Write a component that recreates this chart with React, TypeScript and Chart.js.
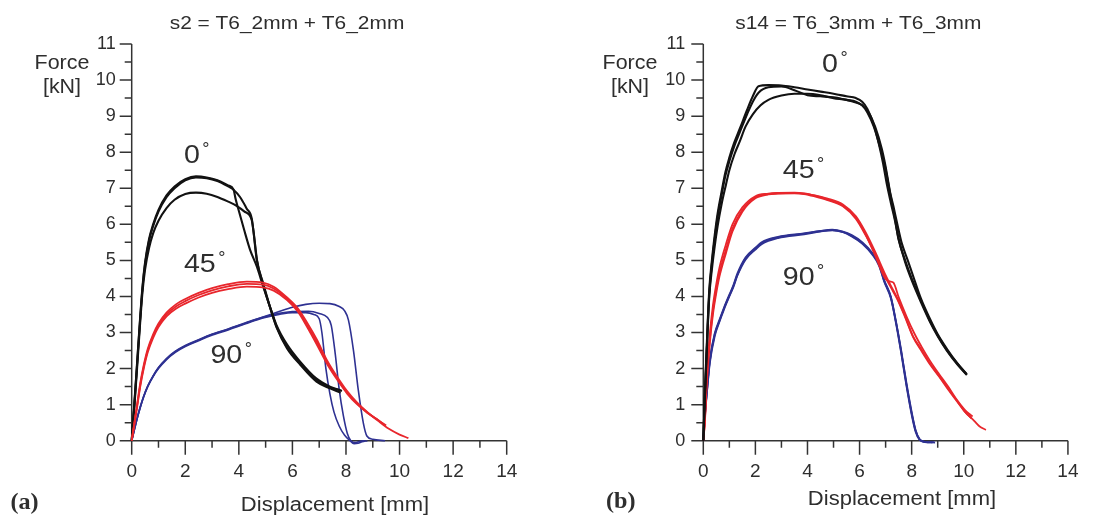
import React, { useEffect, useRef } from 'react';
import { Chart, registerables } from 'chart.js';
Chart.register(...registerables);

// ---------- data (Displacement [mm], Force [kN]) ----------
const xTicks = [0, 2, 4, 6, 8, 10, 12, 14];
const yTicks = [0, 1, 2, 3, 4, 5, 6, 7, 8, 9, 10, 11];

// panel (a): s2 = T6_2mm + T6_2mm
const a0_1 = [[0,0],[0.1,1.0],[0.2,2.1],[0.3,3.2],[0.4,4.2],[0.5,4.9],[0.65,5.55],[0.8,5.95],[1.0,6.35],[1.3,6.75],[1.6,7.0],[2.0,7.22],[2.4,7.3],[2.8,7.28],[3.2,7.2],[3.6,7.05],[3.8,6.96],[4.05,6.75],[4.29,6.44],[4.48,6.17],[4.54,5.84],[4.67,5.01],[4.91,4.36],[5.16,3.72],[5.41,3.16],[5.79,2.61],[6.28,2.15],[6.9,1.68],[7.3,1.5],[7.78,1.4]];
const a0_2 = [[0,0],[0.1,1.05],[0.2,2.15],[0.3,3.25],[0.4,4.25],[0.5,4.95],[0.65,5.6],[0.8,6.0],[1.0,6.4],[1.3,6.8],[1.6,7.05],[2.0,7.25],[2.4,7.33],[2.8,7.3],[3.2,7.22],[3.6,7.08],[3.8,6.97],[3.88,6.7],[3.97,6.45],[4.2,5.84],[4.42,5.29],[4.67,4.83],[4.91,4.27],[5.16,3.72],[5.41,3.2],[5.79,2.68],[6.28,2.2],[6.9,1.72],[7.4,1.5],[7.85,1.38]];
const a0_3 = [[0,0],[0.1,0.95],[0.2,2.0],[0.3,3.1],[0.4,4.1],[0.5,4.75],[0.65,5.35],[0.8,5.75],[1.0,6.1],[1.3,6.45],[1.6,6.68],[2.0,6.84],[2.4,6.88],[2.8,6.85],[3.2,6.76],[3.6,6.63],[3.9,6.52],[4.2,6.36],[4.48,6.12],[4.55,5.8],[4.68,5.0],[4.92,4.3],[5.17,3.68],[5.42,3.12],[5.8,2.56],[6.3,2.1],[6.9,1.64],[7.4,1.45],[7.8,1.33]];
const a45_1 = [[0,0],[0.1,0.5],[0.2,1.0],[0.32,1.6],[0.45,2.1],[0.6,2.55],[0.8,2.95],[1.0,3.25],[1.3,3.55],[1.65,3.78],[2.0,3.93],[2.5,4.1],[3.0,4.23],[3.6,4.34],[4.3,4.41],[4.9,4.38],[5.3,4.27],[5.8,3.97],[6.2,3.67],[6.55,3.27],[6.9,2.82],[7.3,2.22],[7.7,1.74],[8.05,1.37],[8.4,1.07],[8.8,0.79],[9.2,0.55],[9.6,0.33],[10.0,0.17],[10.33,0.07]];
const a45_2 = [[0,0],[0.1,0.45],[0.2,0.92],[0.32,1.5],[0.45,2.0],[0.6,2.45],[0.8,2.85],[1.0,3.15],[1.3,3.45],[1.65,3.66],[2.0,3.8],[2.5,3.97],[3.0,4.1],[3.6,4.2],[4.3,4.27],[4.9,4.25],[5.3,4.16],[5.8,3.9],[6.2,3.58],[6.55,3.15],[6.9,2.68],[7.3,2.12],[7.7,1.66],[8.05,1.3],[8.4,1.02],[8.8,0.77],[9.15,0.6],[9.46,0.43]];
const a45_3 = [[0,0],[0.1,0.48],[0.2,0.96],[0.32,1.55],[0.45,2.05],[0.6,2.5],[0.8,2.9],[1.0,3.2],[1.3,3.5],[1.65,3.72],[2.0,3.87],[2.5,4.04],[3.0,4.17],[3.6,4.28],[4.3,4.35],[4.9,4.33],[5.3,4.22],[5.8,3.94],[6.2,3.62],[6.55,3.2],[6.9,2.75],[7.3,2.17],[7.7,1.7],[8.05,1.33],[8.4,1.04],[8.8,0.78],[9.2,0.57],[9.5,0.42]];
const a90_1 = [[0,0],[0.1,0.32],[0.2,0.62],[0.32,0.94],[0.45,1.24],[0.6,1.52],[0.8,1.8],[1.0,2.03],[1.3,2.28],[1.63,2.48],[2.0,2.64],[2.5,2.8],[2.94,2.94],[3.6,3.1],[4.25,3.27],[4.9,3.43],[5.5,3.58],[6.0,3.7],[6.5,3.78],[7.0,3.81],[7.4,3.8],[7.75,3.72],[7.95,3.6],[8.09,3.35],[8.28,2.5],[8.46,1.4],[8.65,0.48],[8.78,0.13],[9.0,0.04],[9.46,0.0]];
const a90_2 = [[0,0],[0.1,0.3],[0.2,0.6],[0.32,0.92],[0.45,1.22],[0.6,1.5],[0.8,1.78],[1.0,2.0],[1.3,2.25],[1.63,2.45],[2.0,2.61],[2.5,2.77],[2.94,2.91],[3.6,3.07],[4.25,3.24],[4.9,3.4],[5.5,3.5],[6.0,3.55],[6.5,3.55],[6.8,3.5],[7.0,3.38],[7.1,3.0],[7.25,2.0],[7.4,1.3],[7.55,0.8],[7.75,0.4],[7.95,0.15],[8.15,0.0],[8.3,-0.08],[8.45,-0.07],[8.6,-0.03],[8.8,0.0]];
const a90_3 = [[0,0],[0.1,0.31],[0.2,0.61],[0.32,0.93],[0.45,1.23],[0.6,1.51],[0.8,1.79],[1.0,2.02],[1.3,2.27],[1.63,2.47],[2.0,2.63],[2.5,2.79],[2.94,2.93],[3.6,3.09],[4.25,3.26],[4.9,3.42],[5.5,3.53],[6.0,3.58],[6.6,3.59],[7.0,3.53],[7.3,3.42],[7.45,3.2],[7.6,2.4],[7.75,1.4],[7.9,0.7],[8.05,0.2],[8.18,0.0],[8.35,-0.05],[8.5,-0.02],[8.7,0.0]];

// panel (b): s14 = T6_3mm + T6_3mm
const b0_1 = [[0,0],[0.05,1.1],[0.1,2.05],[0.17,3.3],[0.23,4.2],[0.33,5.0],[0.43,5.65],[0.55,6.3],[0.7,6.9],[0.85,7.45],[1.0,7.85],[1.18,8.25],[1.4,8.65],[1.68,9.17],[1.9,9.55],[2.12,9.83],[2.5,9.86],[3.0,9.85],[3.5,9.8],[4.0,9.74],[4.5,9.68],[5.0,9.62],[5.5,9.55],[5.86,9.5],[6.1,9.4],[6.3,9.2],[6.55,8.75],[6.75,8.2],[6.9,7.7],[7.05,7.1],[7.2,6.6],[7.36,6.1],[7.5,5.6],[7.75,4.95],[8.0,4.45],[8.35,3.85],[8.7,3.3],[9.0,2.9],[9.35,2.5],[9.75,2.12],[10.12,1.82]];
const b0_2 = [[0,0],[0.05,1.0],[0.1,1.95],[0.17,3.2],[0.23,4.1],[0.33,4.9],[0.43,5.55],[0.55,6.2],[0.7,6.8],[0.85,7.35],[1.0,7.75],[1.18,8.15],[1.4,8.55],[1.68,9.05],[1.9,9.4],[2.12,9.65],[2.5,9.8],[3.0,9.82],[3.5,9.72],[4.0,9.58],[4.5,9.55],[5.0,9.52],[5.5,9.45],[5.86,9.4],[6.1,9.3],[6.35,9.1],[6.6,8.7],[6.85,8.1],[7.0,7.6],[7.17,6.9],[7.3,6.5],[7.45,6.0],[7.61,5.5],[7.85,5.0],[8.04,4.6],[8.35,3.95],[8.7,3.38],[9.0,2.95],[9.35,2.55],[9.75,2.15],[10.1,1.85]];
const b0_3 = [[0,0],[0.05,1.0],[0.1,1.9],[0.17,3.1],[0.23,4.0],[0.33,4.75],[0.43,5.35],[0.55,5.95],[0.7,6.55],[0.87,7.1],[1.0,7.5],[1.2,7.95],[1.4,8.3],[1.62,8.71],[1.9,9.05],[2.2,9.3],[2.5,9.45],[3.0,9.57],[3.5,9.62],[4.0,9.62],[4.5,9.58],[5.0,9.5],[5.5,9.45],[5.86,9.38],[6.1,9.3],[6.3,9.1],[6.55,8.7],[6.8,8.1],[6.98,7.6],[7.17,6.86],[7.36,6.15],[7.49,5.6],[7.75,5.0],[8.0,4.5],[8.35,3.9],[8.7,3.33],[9.0,2.92],[9.35,2.52],[9.75,2.14],[10.12,1.84]];
const b45_1 = [[0,0],[0.06,0.6],[0.13,1.75],[0.25,2.95],[0.37,3.75],[0.5,4.35],[0.62,4.8],[0.87,5.45],[1.12,6.0],[1.5,6.47],[2.0,6.78],[2.5,6.85],[2.87,6.87],[3.5,6.88],[3.87,6.86],[4.3,6.8],[4.74,6.72],[5.36,6.55],[5.86,6.22],[6.23,5.78],[6.61,5.22],[6.98,4.62],[7.2,4.3],[7.45,3.95],[7.75,3.45],[8.05,2.9],[8.4,2.5],[8.7,2.15],[9.05,1.8],[9.4,1.45],[9.75,1.1],[10.05,0.8],[10.4,0.55],[10.6,0.4],[10.85,0.3]];
const b45_2 = [[0,0],[0.06,0.55],[0.13,1.65],[0.25,2.8],[0.37,3.6],[0.5,4.2],[0.62,4.65],[0.87,5.3],[1.12,5.88],[1.5,6.4],[2.0,6.75],[2.5,6.84],[2.87,6.86],[3.5,6.87],[3.87,6.85],[4.3,6.79],[4.74,6.7],[5.36,6.52],[5.86,6.18],[6.23,5.72],[6.61,5.12],[6.98,4.5],[7.15,4.42],[7.3,4.38],[7.5,3.98],[7.8,3.45],[8.1,2.98],[8.4,2.58],[8.7,2.22],[9.05,1.85],[9.4,1.5],[9.75,1.12],[10.05,0.85],[10.34,0.67]];
const b45_3 = [[0,0],[0.06,0.5],[0.13,1.55],[0.25,2.7],[0.37,3.5],[0.5,4.1],[0.62,4.55],[0.87,5.2],[1.12,5.8],[1.5,6.35],[2.0,6.72],[2.5,6.83],[2.87,6.85],[3.5,6.86],[3.87,6.84],[4.3,6.77],[4.74,6.68],[5.36,6.5],[5.86,6.15],[6.23,5.7],[6.61,5.15],[6.98,4.55],[7.2,4.25],[7.45,3.92],[7.75,3.42],[8.05,2.88],[8.4,2.46],[8.7,2.12],[9.05,1.78],[9.4,1.42],[9.75,1.08],[10.05,0.8],[10.3,0.62]];
const b90_1 = [[0,0],[0.06,0.7],[0.13,1.32],[0.25,2.24],[0.44,2.98],[0.62,3.35],[0.8,3.7],[1.0,4.05],[1.15,4.3],[1.31,4.64],[1.62,5.08],[2.0,5.35],[2.24,5.5],[2.87,5.65],[3.87,5.75],[4.5,5.82],[4.95,5.85],[5.36,5.8],[5.7,5.7],[6.11,5.5],[6.5,5.2],[6.75,4.9],[6.95,4.45],[7.2,4.0],[7.4,3.3],[7.6,2.5],[7.8,1.6],[8.0,0.8],[8.15,0.3],[8.3,0.05],[8.5,-0.03],[8.9,-0.05]];
const b90_2 = [[0,0],[0.06,0.65],[0.13,1.25],[0.25,2.15],[0.44,2.9],[0.62,3.3],[0.8,3.65],[1.0,4.0],[1.15,4.25],[1.31,4.58],[1.62,5.02],[2.0,5.3],[2.24,5.45],[2.87,5.62],[3.87,5.72],[4.5,5.8],[4.95,5.83],[5.36,5.78],[5.7,5.66],[6.11,5.46],[6.5,5.15],[6.75,4.85],[6.95,4.4],[7.2,3.95],[7.4,3.25],[7.6,2.42],[7.8,1.52],[8.0,0.72],[8.15,0.25],[8.3,0.03],[8.5,-0.04],[8.8,-0.05]];
const b90_3 = [[0,0],[0.06,0.68],[0.13,1.28],[0.25,2.2],[0.44,2.95],[0.62,3.32],[0.8,3.68],[1.0,4.02],[1.15,4.28],[1.31,4.6],[1.62,5.05],[2.0,5.33],[2.24,5.48],[2.87,5.64],[3.87,5.74],[4.5,5.81],[4.95,5.84],[5.36,5.79],[5.7,5.68],[6.11,5.48],[6.5,5.18],[6.75,4.88],[6.95,4.42],[7.2,3.98],[7.4,3.28],[7.6,2.46],[7.8,1.56],[8.0,0.76],[8.15,0.28],[8.3,0.04],[8.5,-0.03],[8.85,-0.04]];

// curve labels (anchored in data units)
const labelsA = [{ text: '0', x: 1.95, y: 7.69 }, { text: '45', x: 1.95, y: 4.69 }, { text: '90', x: 2.94, y: 2.15 }];
const labelsB = [{ text: '0', x: 4.56, y: 10.23 }, { text: '45', x: 3.05, y: 7.28 }, { text: '90', x: 3.05, y: 4.32 }];

// ---------- styles ----------
const BLACK = '#121212';
const RED = '#e8262c';
const BLUE = '#2e3192';
const TEXT = '#2e2e2e';
const AXIS = '#333333';
const SANS = '"Liberation Sans", Arial, sans-serif';
const SERIF = '"Liberation Serif", "Times New Roman", serif';
const H = 515;
const PLOT_TOP = 44;
const PLOT_BOTTOM = 440.7;
const Y_AXIS_W = 40;
const X_AXIS_H = 40;
const SX = 1.1;

type Panel = {
  left: number; width: number; plotLeft: number; plotRight: number;
  title: string; titleX: number; forceX: number; xTitleX: number; xTitleY: number;
  letter: string; letterX: number; letterY: number; yPad: number;
  curves: { data: number[][]; color: string; width: number }[];
  labels: { text: string; x: number; y: number }[];
};

const panels: Panel[] = [
  {
    left: 0, width: 560, plotLeft: 131.7, plotRight: 506.7,
    title: 's2 = T6_2mm + T6_2mm', titleX: 287, forceX: 62, xTitleX: 335, xTitleY: 511,
    letter: '(a)', letterX: 10.5, letterY: 509, yPad: 16,
    curves: [
      { data: a45_1, color: RED, width: 1.8 }, { data: a45_2, color: RED, width: 1.8 }, { data: a45_3, color: RED, width: 1.8 },
      { data: a0_1, color: BLACK, width: 2.1 }, { data: a0_2, color: BLACK, width: 2.1 }, { data: a0_3, color: BLACK, width: 2.1 },
      { data: a90_1, color: BLUE, width: 1.6 }, { data: a90_2, color: BLUE, width: 1.6 }, { data: a90_3, color: BLUE, width: 1.6 },
    ],
    labels: labelsA,
  },
  {
    left: 560, width: 538, plotLeft: 143.3, plotRight: 517.7,
    title: 's14 = T6_3mm + T6_3mm', titleX: 298.3, forceX: 70, xTitleX: 342, xTitleY: 505,
    letter: '(b)', letterX: 46, letterY: 508, yPad: 18,
    curves: [
      { data: b0_1, color: BLACK, width: 2.1 }, { data: b0_2, color: BLACK, width: 2.1 }, { data: b0_3, color: BLACK, width: 2.1 },
      { data: b45_1, color: RED, width: 1.8 }, { data: b45_2, color: RED, width: 1.8 }, { data: b45_3, color: RED, width: 1.8 },
      { data: b90_1, color: BLUE, width: 1.8 }, { data: b90_2, color: BLUE, width: 1.8 }, { data: b90_3, color: BLUE, width: 1.8 },
    ],
    labels: labelsB,
  },
];

function drawText(ctx: CanvasRenderingContext2D, text: string, x: number, y: number, font: string,
  align: CanvasTextAlign, baseline: CanvasTextBaseline, sx = 1) {
  ctx.save();
  ctx.font = font;
  ctx.textAlign = align;
  ctx.textBaseline = baseline;
  ctx.fillStyle = TEXT;
  ctx.translate(x, y);
  ctx.scale(sx, 1);
  ctx.fillText(text, 0, 0);
  ctx.restore();
}

function makeDecor(p: Panel) {
  return {
    id: 'decor',
    beforeDatasetsDraw(chart: any) {
      const { ctx, scales } = chart;
      const xs = scales.x, ys = scales.y;
      const yMax = yTicks[yTicks.length - 1];
      const xMax = xTicks[xTicks.length - 1];
      ctx.save();
      ctx.strokeStyle = AXIS;
      ctx.lineWidth = 1.5;
      ctx.beginPath();
      const left = xs.getPixelForValue(0);
      const bottom = ys.getPixelForValue(0);
      ctx.moveTo(left, ys.getPixelForValue(yMax));
      ctx.lineTo(left, bottom);
      ctx.moveTo(left, bottom);
      ctx.lineTo(xs.getPixelForValue(xMax), bottom);
      for (let v = 0; v <= yMax + 1e-9; v += 0.5) {
        const y = ys.getPixelForValue(v);
        const len = Math.abs(v - Math.round(v)) < 1e-6 ? 12 : 7;
        ctx.moveTo(left - len, y);
        ctx.lineTo(left, y);
      }
      for (let v = 0; v <= xMax + 1e-9; v += 1) {
        const x = xs.getPixelForValue(v);
        const len = v % 2 === 0 ? 14 : 7;
        ctx.moveTo(x, bottom);
        ctx.lineTo(x, bottom + len);
      }
      ctx.stroke();
      ctx.restore();
    },
    afterDraw(chart: any) {
      const { ctx, scales } = chart;
      const xs = scales.x, ys = scales.y;
      drawText(ctx, p.title, p.titleX, 28.5, `19px ${SANS}`, 'center', 'alphabetic', SX);
      drawText(ctx, 'Force', p.forceX, 64, `19.5px ${SANS}`, 'center', 'middle', SX);
      drawText(ctx, '[kN]', p.forceX, 88, `19.5px ${SANS}`, 'center', 'middle', SX);
      drawText(ctx, 'Displacement [mm]', p.xTitleX, p.xTitleY, `20px ${SANS}`, 'center', 'alphabetic', SX);
      drawText(ctx, p.letter, p.letterX, p.letterY, `bold 23px ${SERIF}`, 'left', 'alphabetic', 1.05);
      for (const l of p.labels) {
        const px = xs.getPixelForValue(l.x);
        const py = ys.getPixelForValue(l.y);
        ctx.save();
        ctx.font = `26px ${SANS}`;
        const w = ctx.measureText(l.text).width * SX;
        ctx.restore();
        drawText(ctx, l.text, px, py, `26px ${SANS}`, 'left', 'alphabetic', SX);
        drawText(ctx, '°', px + w + 2.5, py - 8, `18px ${SANS}`, 'left', 'alphabetic', 1);
      }
    },
  };
}

function PanelChart({ p }: { p: Panel }) {
  const ref = useRef<HTMLCanvasElement | null>(null);
  useEffect(() => {
    if (!ref.current) return;
    const chart = new Chart(ref.current, {
      type: 'scatter',
      data: {
        datasets: p.curves.map((c) => ({
          data: c.data.map(([x, y]) => ({ x, y })),
          borderColor: c.color,
          backgroundColor: c.color,
          borderWidth: c.width,
          showLine: true,
          pointRadius: 0,
          cubicInterpolationMode: 'monotone' as const,
          clip: 6,
        })),
      },
      options: {
        animation: false,
        responsive: false,
        devicePixelRatio: 1,
        events: [],
        layout: {
          padding: {
            left: p.plotLeft - Y_AXIS_W,
            right: p.width - p.plotRight,
            top: PLOT_TOP,
            bottom: H - PLOT_BOTTOM - X_AXIS_H,
          },
        },
        plugins: { legend: { display: false }, tooltip: { enabled: false }, title: { display: false } },
        scales: {
          x: {
            type: 'linear', position: 'bottom', min: xTicks[0], max: xTicks[xTicks.length - 1],
            grid: { display: false, drawTicks: false },
            border: { display: false },
            afterFit: (s: any) => { s.height = X_AXIS_H; },
            afterBuildTicks: (s: any) => { s.ticks = xTicks.map((v) => ({ value: v })); },
            ticks: { autoSkip: false, maxRotation: 0, padding: 19.5, color: TEXT, font: { family: SANS, size: 19 } },
          },
          y: {
            type: 'linear', position: 'left', min: yTicks[0], max: yTicks[yTicks.length - 1],
            grid: { display: false, drawTicks: false },
            border: { display: false },
            afterFit: (s: any) => { s.width = Y_AXIS_W; },
            afterBuildTicks: (s: any) => { s.ticks = yTicks.map((v) => ({ value: v })); },
            ticks: { autoSkip: false, padding: p.yPad, color: TEXT, font: { family: SANS, size: 18 } },
          },
        },
      },
      plugins: [makeDecor(p)],
    } as any);
    return () => chart.destroy();
  }, [p]);
  return (
    <canvas
      ref={ref}
      width={p.width}
      height={H}
      style={{ position: 'absolute', left: p.left, top: 0, width: p.width, height: H }}
    />
  );
}

export default function App() {
  return (
    <div style={{ position: 'absolute', left: 0, top: 0, width: 1098, height: H, background: '#fff' }}>
      {panels.map((p, i) => <PanelChart key={i} p={p} />)}
    </div>
  );
}
